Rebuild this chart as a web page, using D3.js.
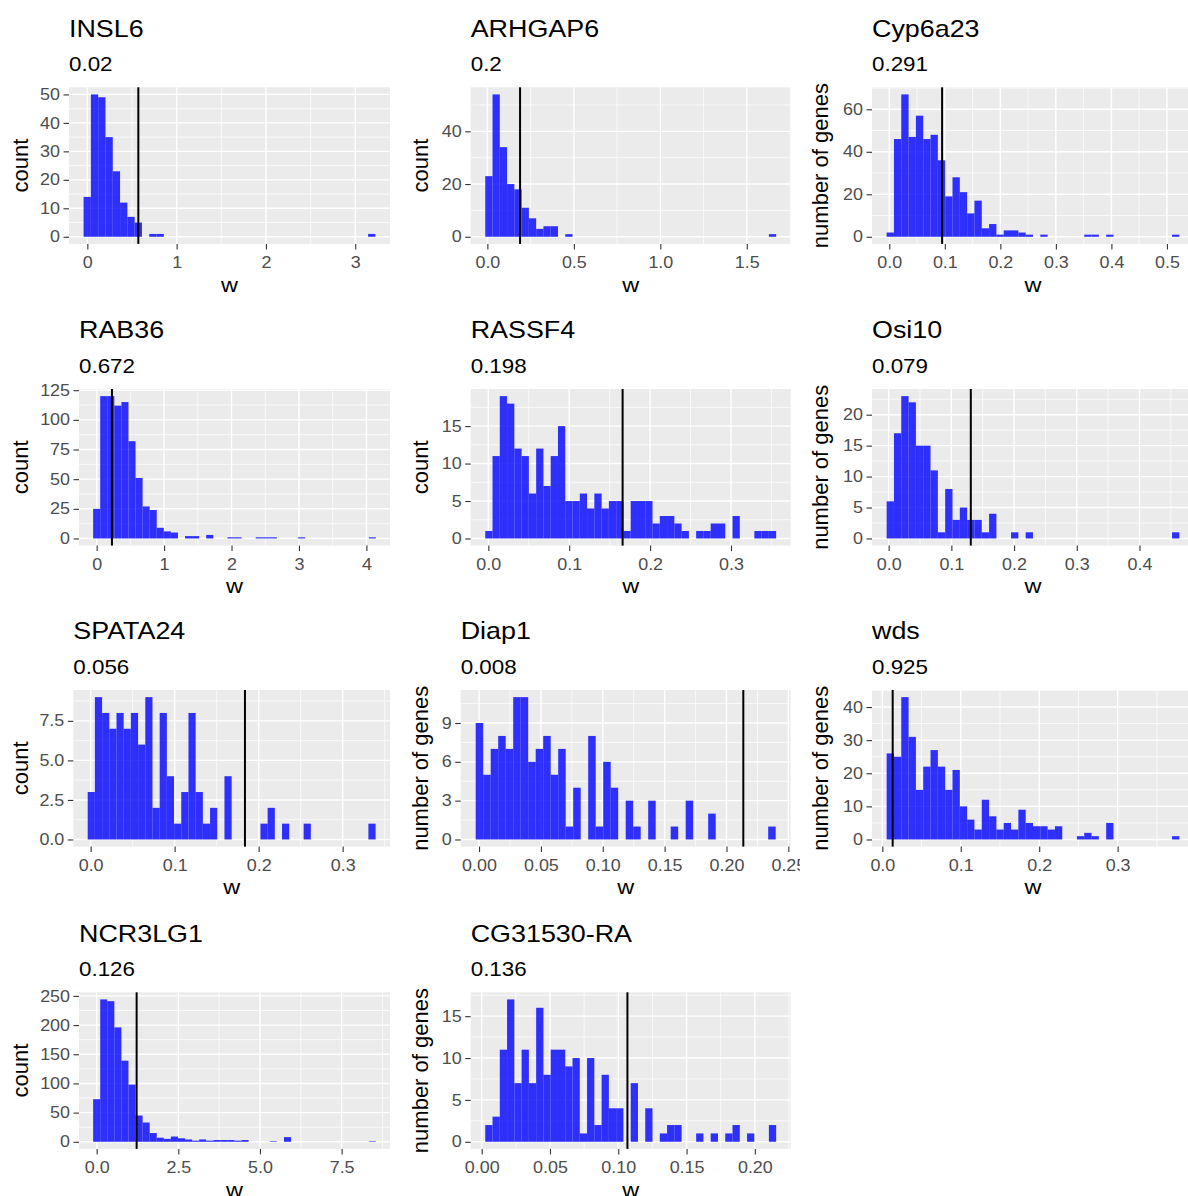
<!DOCTYPE html>
<html>
<head>
<meta charset="utf-8">
<script src="https://cdn.jsdelivr.net/npm/d3@7"></script>
<style>
  body { margin: 0; background: #fff; }
  text { font-family: "Liberation Sans", Arial, sans-serif; }
</style>
</head>
<body>
<svg id="chart" width="1188" height="1196"></svg>
<script>
// Gene names and the score printed under each name
const genes = ["INSL6", "ARHGAP6", "Cyp6a23", "RAB36", "RASSF4", "Osi10",
               "SPATA24", "Diap1", "wds", "NCR3LG1", "CG31530-RA"];
const scores = ["0.02", "0.2", "0.291", "0.672", "0.198", "0.079",
                "0.056", "0.008", "0.925", "0.126", "0.136"];
const yTitles = ["count", "count", "number of genes", "count", "count", "number of genes",
                 "count", "number of genes", "number of genes", "count", "number of genes"];

// Histogram bins: start of first bin and bin width (40 bins each)
const binStarts = [-0.042, -0.0123, -0.0048, -0.052, -0.0038, -0.0032,
                   -0.0035, -0.0027, 0.0055, -0.108, 0.0026];
const binWidths = [0.0817, 0.04205, 0.01318, 0.1048, 0.00899, 0.01167,
                   0.008568, 0.006062, 0.00933, 0.2164, 0.005325];

// Position of the black reference line
const vlines = [0.571, 0.189, 0.0951, 0.227, 0.166, 0.131,
                0.1837, 0.2136, 0.0132, 1.224, 0.1067];

// Bin counts
const countsINSL6 = [14,50,49,35,23,12,7,5,0,1, 1,0,0,0,0,0,0,0,0,0, 0,0,0,0,0,0,0,0,0,0, 0,0,0,0,0,0,0,0,0,1];
const countsARHGAP6 = [23,54,34,20,18,11,7,3,4,4, 0,1,0,0,0,0,0,0,0,0, 0,0,0,0,0,0,0,0,0,0, 0,0,0,0,0,0,0,0,0,1];
const countsCyp6a23 = [2,46,67,47,57,46,48,36,19,28, 21,11,17,4,6,1,3,3,2,1, 0,1,0,0,0,0,0,1,1,0, 1,0,0,0,0,0,0,0,0,1];
const countsRAB36 = [25,120,120,112,115,82,51,27,24,9, 6,5,0,2,2,0,3,0,0,1, 1,0,0,1,1,1,0,0,0,1, 0,0,0,0,0,0,0,0,0,1];
const countsRASSF4 = [1,11,19,18,12,11,6,12,7,11, 15,5,5,6,4,6,4,5,5,1, 5,5,5,2,3,3,2,1,0,1, 1,2,2,0,3,0,0,1,1,1];
const countsOsi10 = [6,17,23,22,15,15,11,1,8,3, 5,3,3,1,4,0,0,1,0,1, 0,0,0,0,0,0,0,0,0,0, 0,0,0,0,0,0,0,0,0,1];
const countsSPATA24 = [3,9,8,7,8,7,8,6,9,2, 8,4,1,3,8,3,1,2,0,4, 0,0,0,0,1,2,0,1,0,0, 1,0,0,0,0,0,0,0,0,1];
const countsDiap1 = [9,5,7,8,7,11,11,6,7,8, 5,7,1,4,0,8,1,6,4,0, 3,1,0,3,0,0,1,0,3,0, 0,2,0,0,0,0,0,0,0,1];
const countsWds = [26,25,43,31,15,22,27,22,15,21, 10,6,3,12,7,3,5,3,9,5, 4,4,3,4,0,0,1,2,1,0, 5,0,0,0,0,0,0,0,0,1];
const countsNCR3LG1 = [73,244,241,196,139,98,45,33,15,7, 5,9,6,4,2,4,2,3,3,3, 2,3,0,0,0,1,0,8,0,0, 0,0,0,0,0,0,0,0,0,1];
const countsCG31530 = [2,3,11,17,7,11,7,16,8,11, 11,9,10,1,10,2,8,4,4,0, 7,0,4,0,1,2,2,0,0,1, 0,1,0,1,2,0,1,0,0,2];

const allCounts = [countsINSL6, countsARHGAP6, countsCyp6a23, countsRAB36, countsRASSF4,
                   countsOsi10, countsSPATA24, countsDiap1, countsWds, countsNCR3LG1, countsCG31530];

// Tick values and their formats
const xTicks = [[0,1,2,3], [0,0.5,1,1.5], [0,0.1,0.2,0.3,0.4,0.5], [0,1,2,3,4],
                [0,0.1,0.2,0.3], [0,0.1,0.2,0.3,0.4], [0,0.1,0.2,0.3],
                [0,0.05,0.1,0.15,0.2,0.25], [0,0.1,0.2,0.3], [0,2.5,5,7.5],
                [0,0.05,0.1,0.15,0.2]];
const xFormats = ["d", ".1f", ".1f", "d", ".1f", ".1f", ".1f", ".2f", ".1f", ".1f", ".2f"];
const yTicks = [[0,10,20,30,40,50], [0,20,40], [0,20,40,60], [0,25,50,75,100,125],
                [0,5,10,15], [0,5,10,15,20], [0,2.5,5,7.5], [0,3,6,9],
                [0,10,20,30,40], [0,50,100,150,200,250], [0,5,10,15]];
const yFormats = ["d", "d", "d", "d", "d", "d", ".1f", "d", "d", "d", "d"];

// Layout of the grid of panels
const colLefts = [0, 400, 800];
const rowTops = [87.3, 389, 690, 992.3];
const panelH = 156.6;
const panelLefts = [69, 470.7, 872, 79, 470.7, 872, 73.3, 460.7, 872, 79, 470.7];
const panelRights = [390, 790.7, 1194, 390, 790.7, 1194, 390, 790.7, 1194, 390, 790.7];
const stretch = 1.12;   // text in the picture is a little wider than tall

const svg = d3.select('#chart');
const defs = svg.append('defs');
colLefts.forEach((c, k) => {
  defs.append('clipPath').attr('id', 'col' + k)
    .append('rect').attr('x', c).attr('y', 0).attr('width', 400).attr('height', 1196);
});

function minorBreaks(ticks, domain) {
  let step = ticks[1] - ticks[0];
  let out = [];
  for (let v = ticks[0] - step / 2; v <= domain[1]; v += step) {
    if (v >= domain[0]) out.push(v);
  }
  return out;
}

function wideText(g, x, y, size, anchor, str, fill) {
  return g.append('text')
    .attr('transform', 'translate(' + x + ',' + y + ') scale(' + stretch + ',1)')
    .attr('text-anchor', anchor)
    .attr('fill', fill || '#000')
    .style('font-size', size + 'px')
    .text(str);
}

function drawPanel(i) {
  let counts = allCounts[i];
  let n = counts.length;
  let bw = binWidths[i];
  let x0 = binStarts[i];
  let R = n * bw;
  let col = i % 3, row = Math.floor(i / 3);
  let top = rowTops[row], bottom = top + panelH;
  let left = panelLefts[i], right = panelRights[i];

  let x = d3.scaleLinear().domain([x0 - 0.05 * R, x0 + 1.05 * R]).range([left, right]);
  let ymax = d3.max(counts);
  let y = d3.scaleLinear().domain([-0.05 * ymax, 1.05 * ymax]).range([bottom, top]);

  let bins = counts.map((c, k) => ({ x0: x0 + k * bw, x1: x0 + (k + 1) * bw, count: c }));

  let g = svg.append('g').attr('clip-path', 'url(#col' + col + ')');

  // panel background
  g.append('rect')
    .attr('x', left).attr('y', top)
    .attr('width', right - left).attr('height', bottom - top)
    .attr('fill', '#EBEBEB');

  // minor grid
  g.selectAll('.xminor').data(minorBreaks(xTicks[i], x.domain())).enter()
    .append('line')
    .attr('x1', d => x(d)).attr('x2', d => x(d))
    .attr('y1', top).attr('y2', bottom)
    .attr('stroke', '#fff').attr('stroke-width', 0.7);
  g.selectAll('.yminor').data(minorBreaks(yTicks[i], y.domain())).enter()
    .append('line')
    .attr('y1', d => y(d)).attr('y2', d => y(d))
    .attr('x1', left).attr('x2', right)
    .attr('stroke', '#fff').attr('stroke-width', 0.7);

  // major grid
  g.selectAll('.xmajor').data(xTicks[i]).enter()
    .append('line')
    .attr('x1', d => x(d)).attr('x2', d => x(d))
    .attr('y1', top).attr('y2', bottom)
    .attr('stroke', '#fff').attr('stroke-width', 1.4);
  g.selectAll('.ymajor').data(yTicks[i]).enter()
    .append('line')
    .attr('y1', d => y(d)).attr('y2', d => y(d))
    .attr('x1', left).attr('x2', right)
    .attr('stroke', '#fff').attr('stroke-width', 1.4);

  // histogram bars
  g.selectAll('.bar').data(bins.filter(d => d.count > 0)).enter()
    .append('rect')
    .attr('x', d => x(d.x0))
    .attr('width', d => x(d.x1) - x(d.x0))
    .attr('y', d => y(d.count))
    .attr('height', d => y(0) - y(d.count))
    .attr('fill', 'blue')
    .attr('fill-opacity', 0.8);

  // reference line
  g.append('line')
    .attr('x1', x(vlines[i])).attr('x2', x(vlines[i]))
    .attr('y1', top).attr('y2', bottom)
    .attr('stroke', '#000').attr('stroke-width', 2);

  // axes
  let xAxis = d3.axisBottom(x).tickValues(xTicks[i]).tickFormat(d3.format(xFormats[i]))
    .tickSize(5.5).tickPadding(7.4);
  let xg = g.append('g').attr('transform', 'translate(0,' + bottom + ')').call(xAxis);
  let yAxis = d3.axisLeft(y).tickValues(yTicks[i]).tickFormat(d3.format(yFormats[i]))
    .tickSize(5.5).tickPadding(3.5);
  let yg = g.append('g').attr('transform', 'translate(' + left + ',0)').call(yAxis);
  [xg, yg].forEach(a => {
    a.select('.domain').remove();
    a.selectAll('.tick line').attr('stroke', '#333').attr('stroke-width', 1.1);
    a.selectAll('.tick text').attr('fill', '#4D4D4D')
      .style('font-size', '16px').style('font-family', '"Liberation Sans", Arial, sans-serif');
  });
  xg.selectAll('.tick text').attr('transform', 'scale(' + stretch + ',1)');
  yg.selectAll('.tick text').attr('x', 0).attr('transform', 'translate(-9,0) scale(' + stretch + ',1)');

  // axis titles
  wideText(g, (left + right) / 2, bottom + 47.7, 21, 'middle', 'w');
  g.append('text')
    .attr('transform', 'translate(' + (colLefts[col] + 28) + ',' + ((top + bottom) / 2) + ') rotate(-90)')
    .attr('text-anchor', 'middle')
    .style('font-size', '22px')
    .text(yTitles[i]);

  // title and subtitle
  wideText(g, left, top - 50.6, 24, 'start', genes[i]);
  wideText(g, left, top - 16.3, 20, 'start', scores[i]);
}

genes.forEach((d, i) => drawPanel(i));
</script>
</body>
</html>
